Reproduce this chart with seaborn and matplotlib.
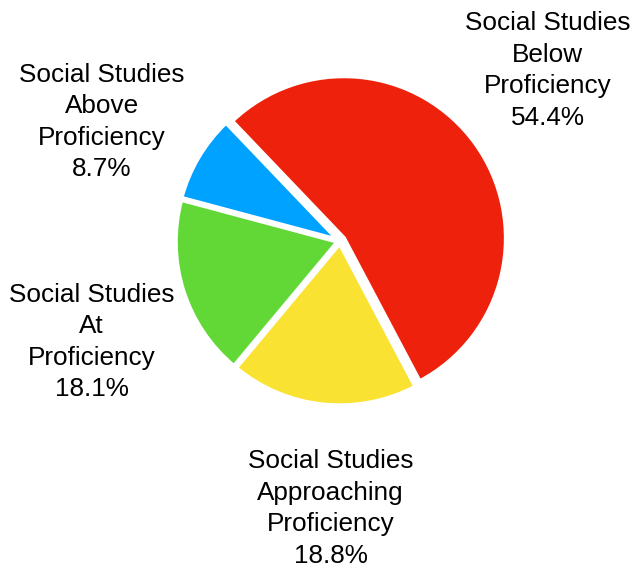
import numpy as np
import matplotlib
matplotlib.use("Agg")
import matplotlib.pyplot as plt
import seaborn as sns

sns.set_theme(style="white")
plt.rcParams['font.family'] = ['Liberation Sans', 'DejaVu Sans']

labels = ["Social Studies\nBelow\nProficiency", "Social Studies\nApproaching\nProficiency",
          "Social Studies\nAt\nProficiency", "Social Studies\nAbove\nProficiency"]
values = [54.4, 18.8, 18.1, 8.7]
colors = ["#EE220C", "#FAE232", "#61D836", "#00A2FF"]
explode = [0.03, 0.015, 0.015, 0.015]

# label placement (data units, pie radius = 1)
label_pos = [(1.281, 1.053), (-0.059, -1.652), (-1.534, -0.623), (-1.472, 0.735)]

fig = plt.figure(figsize=(6.36, 5.69), dpi=100)
ax = fig.add_axes([0, 0, 1, 1])
wedges, _ = ax.pie(values, colors=colors, startangle=133.7, counterclock=False,
                   explode=explode, radius=1.0,
                   wedgeprops=dict(edgecolor="white", linewidth=3))
for lab, v, (x, y) in zip(labels, values, label_pos):
    ax.text(x, y, f"{lab}\n{v}%", ha="center", va="center",
            fontsize=18.8, linespacing=1.40, color="black")
ax.set_xlim(-340/162, 296/162)
ax.set_ylim(-328/162, 241/162)
ax.set_aspect("auto")
ax.axis("off")
fig.savefig("out.png", dpi=100, facecolor="white")
